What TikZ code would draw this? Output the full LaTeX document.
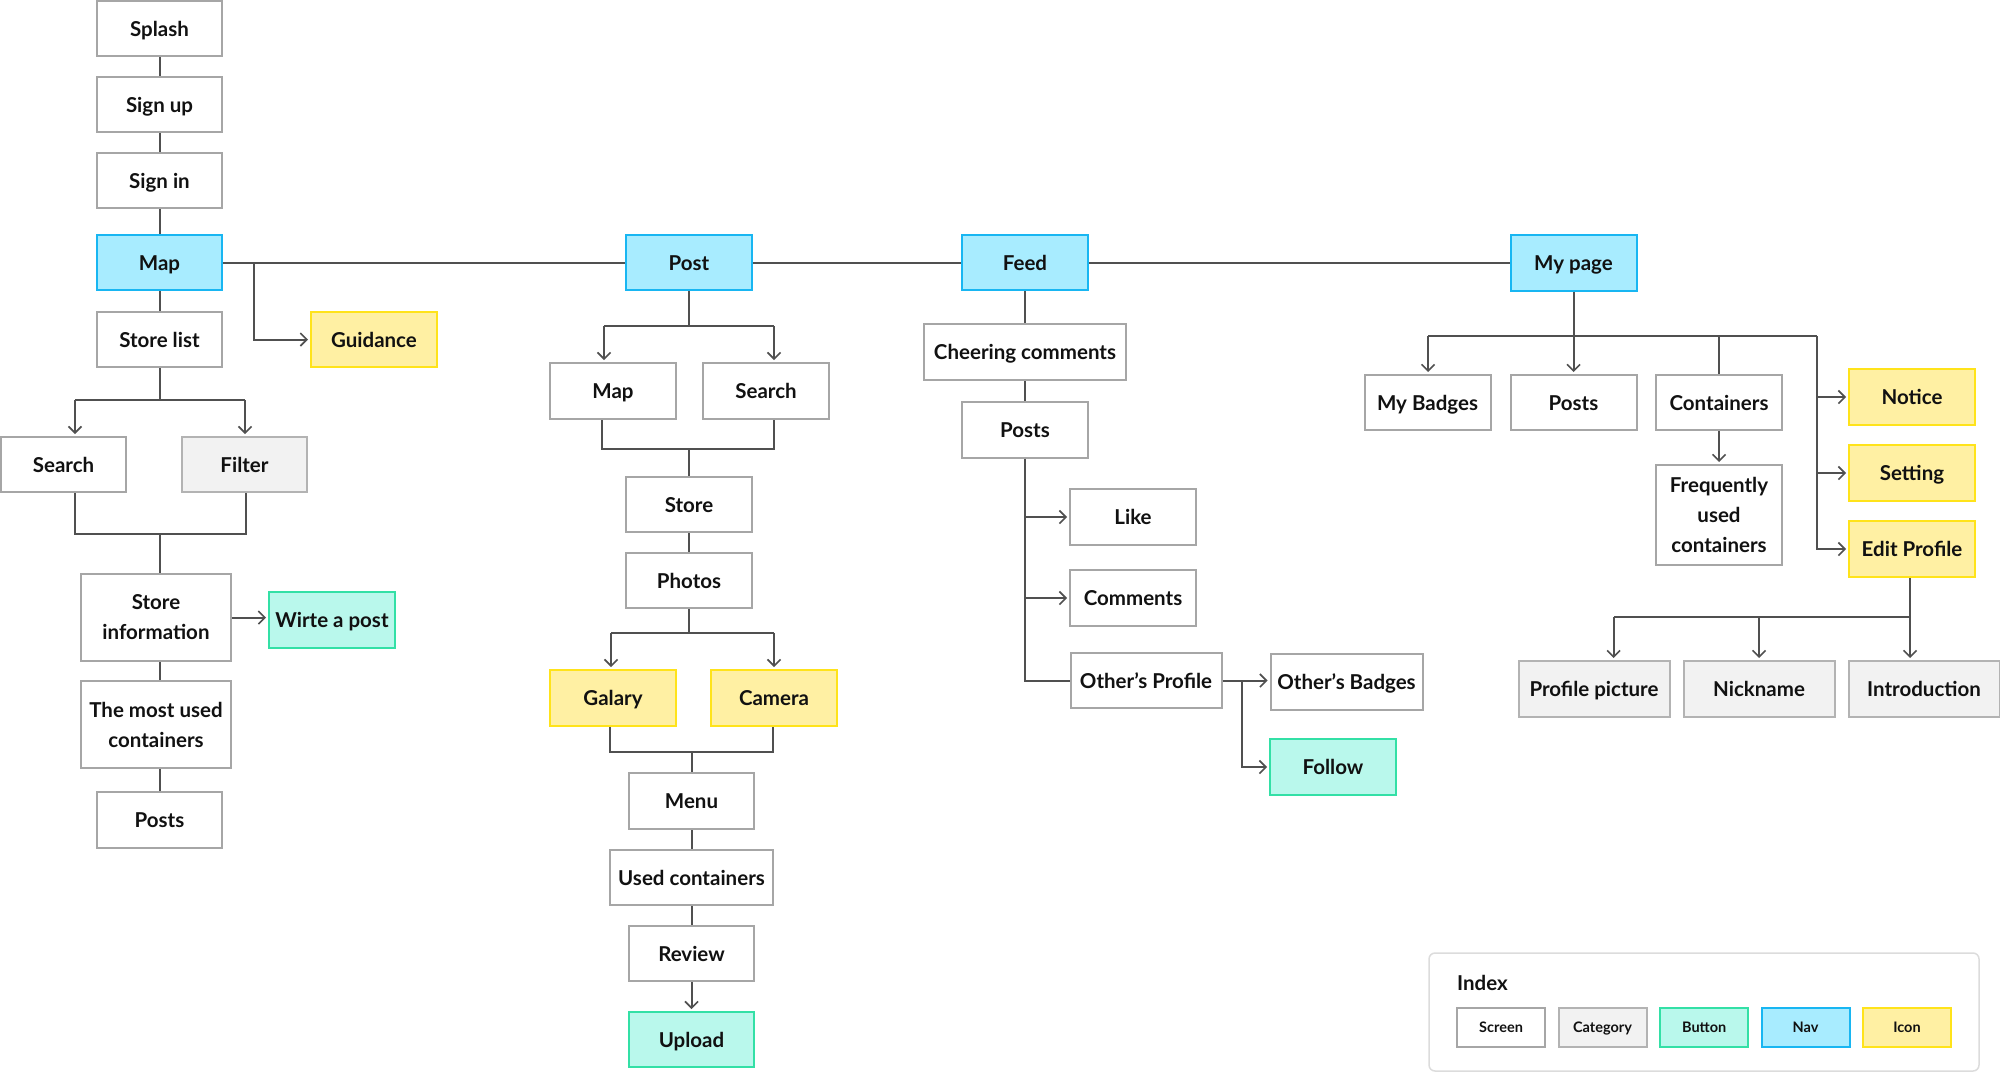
\documentclass[tikz,border=0pt]{standalone}
\usepackage{fontspec}
\setmainfont{Lato}
\usetikzlibrary{arrows.meta}
\definecolor{scrB}{HTML}{A6A6A6}
\definecolor{catF}{HTML}{F2F2F2}
\definecolor{catB}{HTML}{B3B3B3}
\definecolor{btnF}{HTML}{B9F8EC}
\definecolor{btnB}{HTML}{33E0A6}
\definecolor{navF}{HTML}{A8ECFF}
\definecolor{navB}{HTML}{18B6F2}
\definecolor{icoF}{HTML}{FFF0A3}
\definecolor{icoB}{HTML}{FFE31A}
\definecolor{lineC}{HTML}{505050}
\definecolor{txtC}{HTML}{111111}
\definecolor{legB}{HTML}{DCDCDC}
\begin{document}
\begin{tikzpicture}[x=1pt,y=-1pt,
  box/.style={draw=scrB,fill=white,line width=2pt,minimum width=125pt,minimum height=55pt,
    inner sep=0pt,align=center,text=txtC,text height=16pt,text depth=1pt,
    font=\fontsize{20.5}{30}\selectfont\bfseries},
  scr/.style={box},
  cat/.style={box,fill=catF,draw=catB},
  btn/.style={box,fill=btnF,draw=btnB},
  nav/.style={box,fill=navF,draw=navB},
  ico/.style={box,fill=icoF,draw=icoB},
  multi/.style={text height={},text depth={}},
  conn/.style={draw=lineC,line width=2pt},
  arr/.style={conn,-{Straight Barb[length=6.5pt,width=13pt,line width=1.6pt]},shorten >=2pt},
  leg/.style={minimum width=88pt,minimum height=39pt,text height=11.5pt,text depth=1pt,
    font=\fontsize{14.5}{18}\selectfont\bfseries}
]
\useasboundingbox (0,0) rectangle (2000,1072);

% ---- Map column
\node[scr] (Splash) at (159.5,28.5) {Splash};
\node[scr] (Signup) at (159.5,104.5) {Sign up};
\node[scr] (Signin) at (159.5,180.5) {Sign in};
\node[nav] (Map) at (159.5,262.5) {Map};
\node[scr] (Storelist) at (159.5,339.5) {Store list};
\node[ico,minimum width=126pt] (Guidance) at (374,339.5) {Guidance};
\node[scr] (SearchA) at (63.5,464.5) {Search};
\node[cat] (Filter) at (244.5,464.5) {Filter};
\node[scr,multi,minimum width=150pt,minimum height=87pt] (Storeinfo) at (156,617.5) {Store\\information};
\node[btn,minimum width=126pt,minimum height=56pt] (Write) at (332,620) {Wirte a post};
\node[scr,multi,minimum width=150pt,minimum height=87pt] (Mostused) at (156,724.5) {The most used\\containers};
\node[scr,minimum height=56pt] (PostsA) at (159.5,820) {Posts};

% ---- Post column
\node[nav,minimum width=126pt] (Post) at (689,262.5) {Post};
\node[scr,minimum width=126pt,minimum height=56pt] (MapB) at (613,391) {Map};
\node[scr,minimum width=126pt,minimum height=56pt] (SearchB) at (766,391) {Search};
\node[scr,minimum width=126pt] (Store) at (689,504.5) {Store};
\node[scr,minimum width=126pt] (Photos) at (689,580.5) {Photos};
\node[ico,minimum width=126pt,minimum height=56pt] (Galary) at (613,698) {Galary};
\node[ico,minimum width=126pt,minimum height=56pt] (Camera) at (774,698) {Camera};
\node[scr,minimum width=125pt,minimum height=56pt] (Menu) at (691.5,801) {Menu};
\node[scr,minimum width=163pt] (Used) at (691.5,877.5) {Used containers};
\node[scr,minimum width=125pt] (Review) at (691.5,953.5) {Review};
\node[btn,minimum width=125pt] (Upload) at (691.5,1039.5) {Upload};

% ---- Feed column
\node[nav,minimum width=126pt] (Feed) at (1025,262.5) {Feed};
\node[scr,minimum width=202pt,minimum height=56pt] (Cheering) at (1025,352) {Cheering comments};
\node[scr,minimum width=126pt,minimum height=56pt] (PostsB) at (1025,429.5) {Posts};
\node[scr,minimum width=126pt,minimum height=56pt] (Like) at (1133,517) {Like};
\node[scr,minimum width=126pt,minimum height=56pt] (Comments) at (1133,598) {Comments};
\node[scr,minimum width=151pt] (OProfile) at (1146,680.5) {Other’s Profile};
\node[scr,minimum width=152pt,minimum height=56pt] (OBadges) at (1346.5,682) {Other’s Badges};
\node[btn,minimum width=126pt,minimum height=56pt] (Follow) at (1333,767) {Follow};

% ---- My page column
\node[nav,minimum width=126pt,minimum height=56pt] (Mypage) at (1573.5,262.5) {My page};
\node[scr,minimum width=126pt] (MyBadges) at (1427.5,402.5) {My Badges};
\node[scr,minimum width=126pt] (PostsC) at (1573.5,402.5) {Posts};
\node[scr,minimum width=126pt] (Containers) at (1719,402.5) {Containers};
\node[scr,multi,minimum width=126pt,minimum height=100pt] (Freq) at (1719,515) {Frequently\\used\\containers};
\node[ico,minimum width=126pt,minimum height=56pt] (Notice) at (1912,397) {Notice};
\node[ico,minimum width=126pt,minimum height=56pt] (Setting) at (1912,473) {Setting};
\node[ico,minimum width=126pt,minimum height=56pt] (EditProfile) at (1912,549) {Edit Profile};
\node[cat,minimum width=151pt,minimum height=56pt] (ProfilePic) at (1594,689) {Profile picture};
\node[cat,minimum width=151pt,minimum height=56pt] (Nickname) at (1759,689) {Nickname};
\node[cat,minimum width=151pt,minimum height=56pt] (Intro) at (1924,689) {Introduction};

% ---- connectors: Map column
\draw[conn] (Splash) -- (Signup);
\draw[conn] (Signup) -- (Signin);
\draw[conn] (Signin) -- (Map);
\draw[conn] (Map) -- (Storelist);
\draw[conn] (Map) -- (Post);
\draw[conn] (Post) -- (Feed);
\draw[conn] (Feed) -- (Mypage);
\coordinate (g1) at (254,262.5);
\draw[arr] (g1) |- (Guidance.west);
\coordinate (sA) at (75,400);
\coordinate (sB) at (245,400);
\draw[conn] (Storelist) -- (Storelist |- sA);
\draw[conn] (sA) -- (sB);
\draw[arr] (sA) -- (sA |- SearchA.north);
\draw[arr] (sB) -- (sB |- Filter.north);
\coordinate (mA) at (75,534);
\coordinate (mB) at (246,534);
\draw[conn] (sA |- SearchA.south) -- (mA) -- (mB) -- (mB |- Filter.south);
\draw[conn] (PostsA |- mA) -- (PostsA |- Storeinfo.north);
\draw[arr] (Storeinfo.east) -- (Storeinfo.east -| Write.west);
\draw[conn] (PostsA |- Storeinfo.south) -- (PostsA |- Mostused.north);
\draw[conn] (PostsA |- Mostused.south) -- (PostsA.north);

% ---- connectors: Post column
\coordinate (pA) at (604,326);
\coordinate (pB) at (774,326);
\draw[conn] (Post) -- (Post |- pA);
\draw[conn] (pA) -- (pB);
\draw[arr] (pA) -- (pA |- MapB.north);
\draw[arr] (pB) -- (pB |- SearchB.north);
\coordinate (qA) at (602,449);
\coordinate (qB) at (774,449);
\draw[conn] (qA |- MapB.south) -- (qA) -- (qB) -- (qB |- SearchB.south);
\draw[conn] (Store |- qA) -- (Store.north);
\draw[conn] (Store) -- (Photos);
\coordinate (rA) at (611,633);
\coordinate (rB) at (774,633);
\draw[conn] (Photos) -- (Photos |- rA);
\draw[conn] (rA) -- (rB);
\draw[arr] (rA) -- (rA |- Galary.north);
\draw[arr] (rB) -- (rB |- Camera.north);
\coordinate (tA) at (610,752);
\coordinate (tB) at (773,752);
\draw[conn] (tA |- Galary.south) -- (tA) -- (tB) -- (tB |- Camera.south);
\draw[conn] (Menu |- tA) -- (Menu.north);
\draw[conn] (Menu) -- (Used);
\draw[conn] (Used) -- (Review);
\draw[arr] (Review) -- (Upload);

% ---- connectors: Feed column
\draw[conn] (Feed) -- (Cheering);
\draw[conn] (Cheering) -- (PostsB);
\draw[conn] (PostsB.south) -- (PostsB |- OProfile.west) -- (OProfile.west);
\draw[arr] (PostsB |- Like.west) -- (Like.west);
\draw[arr] (PostsB |- Comments.west) -- (Comments.west);
\draw[arr] (OProfile.east) -- (OProfile.east -| OBadges.west);
\coordinate (ob) at (1241.6,680.5);
\draw[arr] (ob) |- (Follow.west);

% ---- connectors: My page column
\coordinate (mpL) at (1428,336);
\coordinate (mpR) at (1817,336);
\draw[conn] (Mypage) -- (Mypage |- mpL);
\draw[conn] (mpL) -- (mpR);
\draw[arr] (mpL) -- (mpL |- MyBadges.north);
\draw[arr] (PostsC |- mpL) -- (PostsC.north);
\draw[conn] (Containers |- mpL) -- (Containers.north);
\draw[arr] (Containers) -- (Freq);
\draw[arr] (mpR) |- (EditProfile.west);
\draw[arr] (mpR |- Notice.west) -- (Notice.west);
\draw[arr] (mpR |- Setting.west) -- (Setting.west);
\coordinate (eA) at (1613.6,616.7);
\coordinate (eB) at (1910,616.7);
\draw[conn] (eB |- EditProfile.south) -- (eB) -- (eA);
\draw[arr] (eA) -- (eA |- ProfilePic.north);
\draw[arr] (Nickname |- eA) -- (Nickname.north);
\draw[arr] (eB) -- (eB |- Intro.north);

% ---- legend
\draw[draw=legB,line width=1.5pt,rounded corners=6pt,fill=white] (1429,953) rectangle (1979,1071);
\node[anchor=west,inner sep=0pt,text=txtC,font=\fontsize{20.5}{24}\selectfont\bfseries] (Idx) at (1457,983) {Index};
\node[scr,leg] (LScreen) at (1501,1027.5) {Screen};
\node[cat,leg] (LCat) at (1602.5,1027.5) {Category};
\node[btn,leg] (LBtn) at (1704.2,1027.5) {Button};
\node[nav,leg] (LNav) at (1805.6,1027.5) {Nav};
\node[ico,leg] (LIco) at (1907,1027.5) {Icon};
\end{tikzpicture}
\end{document}
